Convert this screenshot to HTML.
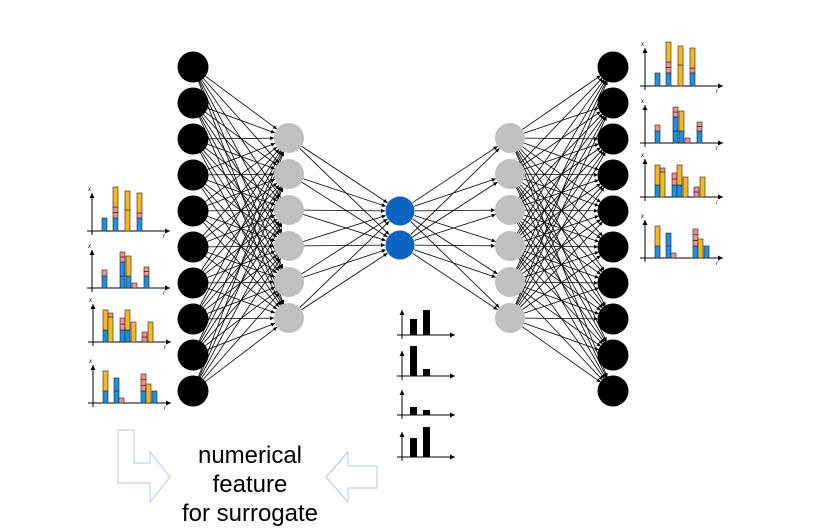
<!DOCTYPE html>
<html><head><meta charset="utf-8"><style>
html,body{margin:0;padding:0;background:#fff;}
svg{display:block;}
text{font-family:"Liberation Sans",sans-serif;}
</style></head><body>
<svg id="s" width="830" height="530" viewBox="0 0 830 530" xmlns="http://www.w3.org/2000/svg">
<defs>
<marker id="ah" viewBox="0 0 10 10" refX="10" refY="5" markerWidth="5" markerHeight="5" orient="auto"><path d="M0,0L10,5L0,10z" fill="#000"/></marker>
</defs>
<g id="lines" stroke="#000" stroke-width="0.8"></g>
<g id="nodes"></g>
<g id="charts"></g>
<g font-size="6" font-style="italic" fill="#000">
<text x="88" y="191">x</text><text x="163" y="238">r</text>
<text x="88" y="248">x</text><text x="163" y="295">r</text>
<text x="89" y="302">x</text><text x="164" y="349">r</text>
<text x="89" y="363">x</text><text x="164" y="410">r</text>
<text x="641" y="46">x</text><text x="716" y="93">r</text>
<text x="641" y="103">x</text><text x="716" y="150">r</text>
<text x="641" y="157">x</text><text x="716" y="204">r</text>
<text x="641" y="218">x</text><text x="716" y="265">r</text>
</g>
<g fill="none" stroke="#b8c8e0" stroke-width="1">
<path d="M118,430 L134,430 L134,463 L150,463 L150,452 L170,477 L150,502 L150,483 L118,483 Z"/>
<path d="M326,477 L348,452 L348,466 L377,466 L377,488 L348,488 L348,502 Z"/>
</g>
<g font-size="24" fill="#000" text-anchor="middle">
<text x="250" y="463">numerical</text>
<text x="250" y="492">feature</text>
<text x="250" y="521">for surrogate</text>
</g>
</svg>
<script>
(function(){
var NS="http://www.w3.org/2000/svg";
function el(p,t,a){var e=document.createElementNS(NS,t);for(var k in a)e.setAttribute(k,a[k]);p.appendChild(e);return e;}
var L=document.getElementById('lines'),N=document.getElementById('nodes'),C=document.getElementById('charts');
var B=[],G1=[],BL=[],G2=[],B2=[];
for(var i=0;i<10;i++){B.push([193,67+36*i]);B2.push([613,67+36*i]);}
for(var i=0;i<6;i++){G1.push([289,138+36*i]);G2.push([510,138+36*i]);}
BL=[[400,211],[400,245]];
function conn(A,Bs,ra,rb){A.forEach(function(a){Bs.forEach(function(b){var dx=b[0]-a[0],dy=b[1]-a[1],d=Math.sqrt(dx*dx+dy*dy);
el(L,'line',{x1:a[0]+dx/d*ra,y1:a[1]+dy/d*ra,x2:b[0]-dx/d*rb,y2:b[1]-dy/d*rb,'marker-end':'url(#ah)'});});});}
conn(B,G1,15,15);conn(G1,BL,15,15);conn(BL,G2,15,15);conn(G2,B2,15,15);
B.concat(B2).forEach(function(p){el(N,'circle',{cx:p[0],cy:p[1],r:15.5,fill:'#000'});});
G1.concat(G2).forEach(function(p){el(N,'circle',{cx:p[0],cy:p[1],r:15,fill:'#c0c0c0'});});
BL.forEach(function(p){el(N,'circle',{cx:p[0],cy:p[1],r:14.5,fill:'#0a64c0'});});
var col={b:'#1e90e0',y:'#f5b820',p:'#f09090'};
// segments: [x, [[color,y0,y1,cells]...]]
var T={
A:[[10,[['b',0,13,1]]],[21,[['b',0,13,1],['p',13,24,2],['y',24,44,1]]],[33,[['y',0,21,1],['y',21,40,1]]],[45,[['b',0,13,1],['p',13,18,1],['y',18,38,1]]]],
B:[[10,[['b',0,12,1],['p',12,18,1]]],[28,[['b',0,12,1],['b',12,26,1],['p',26,36,2]]],[34,[['b',0,12,1],['y',12,32,1]]],[40,[['p',0,5,1]]],[52,[['b',0,12,1],['p',12,21,2]]]],
C:[[10,[['b',0,12,1],['y',12,32,1]]],[15,[['y',0,25,1],['p',25,29,1]]],[27,[['b',0,12,1],['p',12,24,2]]],[32,[['b',0,12,1],['y',12,32,1]]],[38,[['y',0,20,1]]],[49,[['p',0,10,2]]],[55,[['y',0,20,1]]]],
D:[[10,[['b',0,12,1],['y',12,32,1]]],[21,[['b',0,12,1],['b',12,25,1]]],[26,[['p',0,5,1]]],[48,[['b',0,12,1],['p',12,29,3]]],[53,[['y',0,19,1]]],[59,[['b',0,12,1]]]]
};
function axes(ox,oy,top,right,sw){
el(C,'line',{x1:ox,y1:oy+4,x2:ox,y2:oy-top,stroke:'#000','stroke-width':sw||1,'marker-end':'url(#ah)'});
el(C,'line',{x1:ox-5,y1:oy,x2:ox+right,y2:oy,stroke:'#000','stroke-width':1,'marker-end':'url(#ah)'});
}
function chart(t,ox,oy){
axes(ox,oy,38,78);
T[t].forEach(function(bar){var x=ox+bar[0];bar[1].forEach(function(s){
var n=s[3],h=(s[2]-s[1])/n;for(var k=0;k<n;k++){
el(C,'rect',{x:x,y:oy-s[1]-h*(k+1),width:5,height:h,fill:col[s[0]],stroke:'#222','stroke-width':0.6});}});});
}
chart('A',92,231);chart('B',92,288);chart('C',93,342);chart('D',93,403);
chart('A',645,86);chart('B',645,143);chart('C',645,197);chart('D',645,258);
var M=[[335,16,25],[376,30,7],[415,8,5],[457,19,30]];
M.forEach(function(m){var oy=m[0];axes(402,oy,25,53,1);
el(C,'rect',{x:410,y:oy-m[1],width:7,height:m[1],fill:'#000'});
el(C,'rect',{x:423,y:oy-m[2],width:7,height:m[2],fill:'#000'});});
})();
</script>
</body></html>
